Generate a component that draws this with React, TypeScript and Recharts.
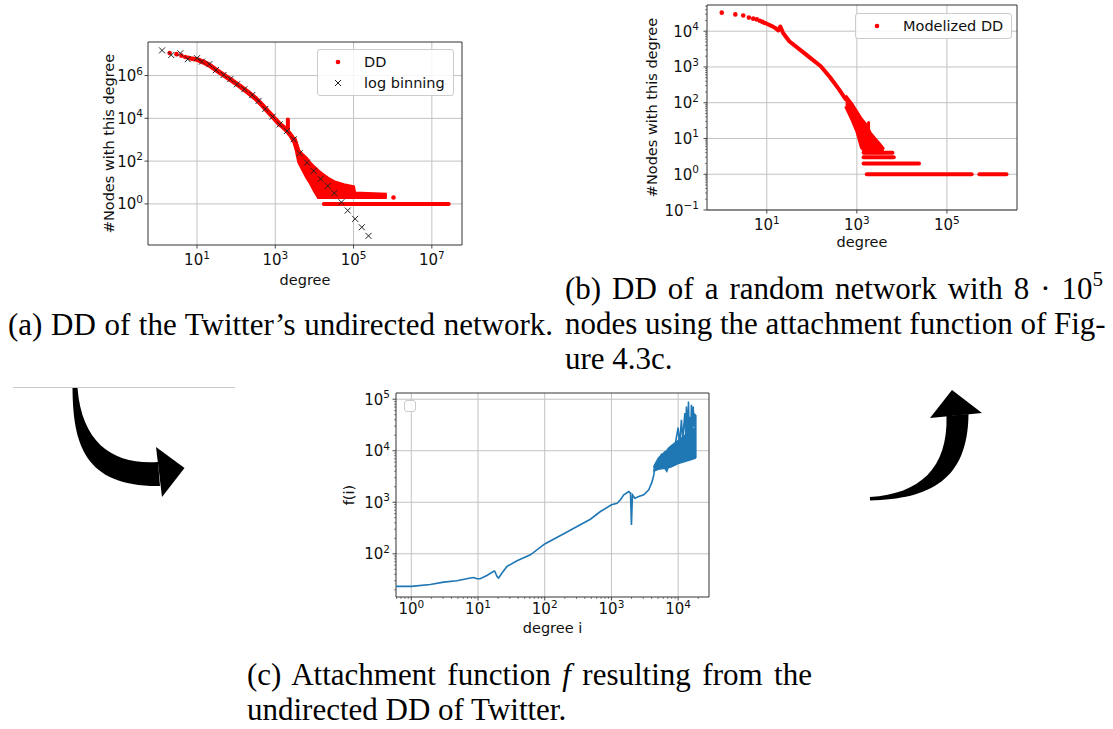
import React from 'react';
import {
  ComposedChart,
  Line,
  Area,
  Scatter,
  XAxis,
  YAxis,
  CartesianGrid,
  Legend,
  ReferenceArea
} from 'recharts';

const FONT = '"DejaVu Sans", sans-serif';
const SERIF = '"Liberation Serif", "Times New Roman", serif';
const RED = '#ff0000';
const BLUE = '#1f77b4';
const GRID = '#c2c2c2';
const MULTS = [2, 3, 4, 5, 6, 7, 8, 9];

// (a) DD of the Twitter undirected network
const aXDomain = [0.56, 5.9e7];
const aYDomain = [0.012, 3.7e7];
const aXMajor = [10, 1e3, 1e5, 1e7];
const aYMajor = [1, 100, 1e4, 1e6];
const aDDDots = [[2, 1.12e7], [3, 1.0e7], [4, 8.5e6], [5, 7.4e6], [6, 6.8e6], [7, 6.3e6], [8, 6.0e6], [9, 5.8e6]];
const aDDBand = [
  [10, 5.6e6], [15.8, 4.0e6], [20, 3.2e6], [31.6, 1.78e6], [50, 1.0e6], [79, 5.75e5], [126, 3.16e5],
  [200, 1.66e5], [316, 8.5e4], [500, 3.55e4], [794, 1.41e4], [1260, 5600], [1580, 4000], [2000, 2630],
  [2510, 1580], [3160, 790], [3550, 400]
];
const aSpike = [[2100, 2800], [2100, 8900]];
// x, lowest, highest
const aCloud = [
  [3160, 630, 1260], [3980, 89, 316], [5010, 39, 200], [6310, 17.8, 135], [7940, 8.9, 79],
  [10000, 4, 52], [12600, 2, 35], [15800, 2, 25], [22400, 2, 15.8], [31600, 2, 11], [56200, 2, 7.9],
  [100000, 2, 6.3], [107000, 2, 3.2], [708000, 2, 2.8]
];
const aRowOne = [17400, 2.7e7, 1];
const aLoneDots = [[1.05e6, 2]];
const aLogBin = [
  [1.28, 1.5e7], [2.2, 9.1e6], [3.75, 1.1e7], [5.8, 5.8e6], [10, 6.5e6], [13.4, 4.5e6], [20.7, 3.4e6],
  [30.5, 1.8e6], [47.9, 1.07e6], [70.8, 6.8e5], [105, 3.9e5], [162, 2.3e5], [259, 1.23e5], [374, 6.5e4],
  [556, 2.75e4], [857, 1.2e4], [1290, 5200], [1990, 2570], [2940, 1050], [4190, 234], [6450, 85],
  [9550, 35], [14400, 14.8], [21900, 6.9], [32300, 3.2], [49000, 1.2], [71000, 0.49], [110000, 0.2],
  [163000, 0.081], [241000, 0.032]
];

// (b) DD of the random network
const bXDomain = [0.47, 3.6e6];
const bYDomain = [0.1, 5.4e4];
const bXMajor = [10, 1e3, 1e5];
const bYMajor = [0.1, 1, 10, 100, 1e3, 1e4];
const bDDDots = [[1, 3.3e4], [2, 2.95e4], [3, 2.75e4], [4, 2.4e4], [5, 2.24e4], [6, 2.14e4], [7, 1.95e4], [8, 1.82e4], [9, 1.7e4]];
const bDDBand = [
  [10, 1.62e4], [12.6, 1.41e4], [15.8, 1.2e4], [18, 1.05e4], [20, 1.35e4], [23, 8900], [31.6, 5250],
  [56, 2950], [100, 1660], [158, 1050], [251, 525], [398, 240], [562, 126]
];
const bCloud = [
  [562, 79, 158], [794, 31.6, 89], [1000, 15.8, 56], [1260, 5.6, 35], [1580, 4, 25], [2000, 4, 14],
  [2510, 4, 10], [3160, 4, 7.1], [3980, 4, 5]
];
const bSpike = [[1820, 10], [1820, 28]];
// from, to, count
const bRows = [[1410, 6170, 4], [1410, 6600, 3], [1410, 24000, 2], [1660, 355000, 1], [525000, 2.1e6, 1]];

// (c) attachment function f(i)
const cXDomain = [0.59, 2.9e4];
const cYDomain = [14.5, 1.32e5];
const cXMajor = [1, 10, 100, 1e3, 1e4];
const cYMajor = [100, 1e3, 1e4, 1e5];
const cCurve = [
  [0.59, 23.3], [1, 23.3], [1.93, 25.4], [3.05, 28.2], [4.84, 30], [7.67, 33.9], [8.6, 34.7], [9.66, 32.8],
  [10.8, 32.8], [13.6, 38], [17.2, 45.7], [17.8, 46.2], [19.3, 36.3], [20.4, 33.9], [22.9, 42.3],
  [27.2, 56.9], [38.5, 73.3], [61, 95.5], [100, 155], [193, 245], [305, 339], [484, 468], [684, 661],
  [1000, 891], [1216, 955], [1365, 1120], [1531, 1400], [1820, 1620], [1930, 1510], [1995, 363],
  [2065, 1400], [2240, 1200], [2570, 1290], [3055, 1400], [3630, 1740], [4070, 2510], [4315, 3390],
  [4470, 5000], [5010, 6300], [5600, 8500], [6310, 7000], [7080, 10000], [7940, 9000], [8900, 12000],
  [10000, 28200], [10500, 13000], [11200, 40000], [11700, 16000], [12600, 53700], [13000, 18000],
  [13300, 72400], [13800, 20000], [14300, 90200], [14600, 22000], [15000, 45700], [15500, 24000],
  [15800, 77600], [16200, 26000], [16800, 72400], [17300, 28000], [17800, 50100], [18400, 47900],
  [18400, 7240]
];
const cBand = [
  [4270, 3980, 4790], [5010, 4370, 7080], [6310, 4570, 9550], [6760, 3980, 10000], [7080, 4680, 11000],
  [7940, 4900, 12600], [10000, 5620, 15800], [12600, 6170, 20000], [15800, 6760, 25100], [18400, 7240, 28200]
];

const pts = (arr: number[][]) => arr.map(([x, y]) => ({ x, y }));
const ranges = (arr: number[][]) => arr.map(([x, lo, hi]) => ({ x, range: [lo, hi] }));
const seg = ([x1, x2, y]: number[]) => [{ x: x1, y }, { x: x2, y }];
const minorTicks = (decades: number[], dom: number[]) =>
  decades.flatMap(d => MULTS.map(m => m * d)).filter(v => v > dom[0] && v < dom[1]);

const expo = (v: number) => {
  const e = Math.round(Math.log10(v));
  return e < 0 ? '\u2212' + Math.abs(e) : String(e);
};

const xTick = (majors: number[], dy: number) => (p: any) => {
  const v = p.payload.value;
  const major = majors.indexOf(v) >= 0;
  return (
    <g>
      <line x1={p.x} x2={p.x} y1={p.y} y2={p.y + (major ? 3.5 : 2)} stroke="#333" strokeWidth={major ? 0.9 : 0.6} />
      {major ? (
        <text x={p.x} y={p.y + dy} textAnchor="middle" fontFamily={FONT} fontSize={15} fill="#111">
          10<tspan dy={-6.5} fontSize={10.5}>{expo(v)}</tspan>
        </text>
      ) : null}
    </g>
  );
};

const yTick = (majors: number[], gap: number) => (p: any) => {
  const v = p.payload.value;
  const major = majors.indexOf(v) >= 0;
  return (
    <g>
      <line x1={p.x - (major ? 3.5 : 2)} x2={p.x} y1={p.y} y2={p.y} stroke="#333" strokeWidth={major ? 0.9 : 0.6} />
      {major ? (
        <text x={p.x - gap} y={p.y + 5.5} textAnchor="end" fontFamily={FONT} fontSize={15} fill="#111">
          10<tspan dy={-6.5} fontSize={10.5}>{expo(v)}</tspan>
        </text>
      ) : null}
    </g>
  );
};

const redDot = (p: any) => <circle cx={p.cx} cy={p.cy} r={2.3} fill={RED} />;
const cross = (p: any) => (
  <path
    d={`M${p.cx - 3},${p.cy - 3}L${p.cx + 3},${p.cy + 3}M${p.cx - 3},${p.cy + 3}L${p.cx + 3},${p.cy - 3}`}
    stroke="#222"
    strokeWidth={1}
  />
);

const labelStyle = { textAnchor: 'middle', fontFamily: FONT, fontSize: 14.5, fill: '#111' } as any;
const legendBox = {
  boxSizing: 'border-box',
  border: '1px solid #cccccc',
  borderRadius: 3,
  background: 'rgba(255,255,255,0.85)'
} as any;

function LegendA() {
  return (
    <div style={{ ...legendBox, width: 137, height: 47 }}>
      <svg width={137} height={47} style={{ display: 'block' }}>
        <circle cx={20} cy={12} r={2.3} fill={RED} />
        <path d="M17,30L23,36M17,36L23,30" stroke="#222" strokeWidth={1} />
        <text x={46} y={17} fontFamily={FONT} fontSize={14.5} fill="#111">DD</text>
        <text x={46} y={38} fontFamily={FONT} fontSize={14.5} fill="#111">log binning</text>
      </svg>
    </div>
  );
}

function LegendB() {
  return (
    <div style={{ ...legendBox, width: 157, height: 26 }}>
      <svg width={157} height={26} style={{ display: 'block' }}>
        <circle cx={21} cy={12} r={2.3} fill={RED} />
        <text x={47} y={17} fontFamily={FONT} fontSize={14.5} fill="#111">Modelized DD</text>
      </svg>
    </div>
  );
}

function LegendC() {
  return <div style={{ ...legendBox, width: 12, height: 12 }} />;
}

function ChartA() {
  return (
    <ComposedChart width={390} height={270} margin={{ top: 12, right: 18, bottom: 15, left: 0 }}>
      <CartesianGrid stroke={GRID} verticalValues={aXMajor} horizontalValues={aYMajor} />
      <XAxis
        dataKey="x" type="number" scale="log" domain={aXDomain} allowDataOverflow ticks={aXMajor} interval={0}
        tickSize={0} tickMargin={0} axisLine={false} tick={xTick(aXMajor, 20)} height={40}
        label={{ value: 'degree', position: 'insideBottom', offset: 0, style: labelStyle }}
      />
      <YAxis
        type="number" scale="log" domain={aYDomain} allowDataOverflow ticks={aYMajor} interval={0}
        tickSize={0} tickMargin={0} axisLine={false} tick={yTick(aYMajor, 5)} width={58}
        label={{ value: '#Nodes with this degree', angle: -90, position: 'insideLeft', offset: 19, style: labelStyle }}
      />
      <ReferenceArea x1={aXDomain[0]} x2={aXDomain[1]} y1={aYDomain[0]} y2={aYDomain[1]} fill="none" stroke="#333" ifOverflow="visible" />
      <Area data={ranges(aCloud)} dataKey="range" type="linear" stroke={RED} strokeWidth={3} fill={RED} fillOpacity={1} isAnimationActive={false} />
      <Line data={pts(aDDBand)} dataKey="y" type="linear" stroke={RED} strokeWidth={5} strokeLinejoin="round" strokeLinecap="round" dot={false} activeDot={false} isAnimationActive={false} />
      <Line data={pts(aSpike)} dataKey="y" type="linear" stroke={RED} strokeWidth={4} strokeLinecap="round" dot={false} activeDot={false} isAnimationActive={false} />
      <Line data={seg(aRowOne)} dataKey="y" type="linear" stroke={RED} strokeWidth={4} strokeLinecap="round" dot={false} activeDot={false} isAnimationActive={false} />
      <Scatter data={pts(aDDDots)} dataKey="y" shape={redDot} isAnimationActive={false} />
      <Scatter data={pts(aLoneDots)} dataKey="y" shape={redDot} isAnimationActive={false} />
      <Scatter data={pts(aLogBin)} dataKey="y" shape={cross} isAnimationActive={false} />
      <Legend layout="vertical" align="center" verticalAlign="middle" wrapperStyle={{ left: 227, top: 19 }} content={() => <LegendA />} />
    </ComposedChart>
  );
}

function ChartB() {
  const bYMinor = minorTicks([0.1, 1, 10, 100, 1e3, 1e4], bYDomain);
  return (
    <ComposedChart width={400} height={260} margin={{ top: 5, right: 13, bottom: 13, left: 0 }}>
      <CartesianGrid stroke={GRID} verticalValues={bXMajor} horizontalValues={bYMajor} />
      <XAxis
        dataKey="x" type="number" scale="log" domain={bXDomain} allowDataOverflow ticks={bXMajor} interval={0}
        tickSize={0} tickMargin={0} axisLine={false} tick={xTick(bXMajor, 20)} height={37}
        label={{ value: 'degree', position: 'insideBottom', offset: 0, style: labelStyle }}
      />
      <YAxis
        type="number" scale="log" domain={bYDomain} allowDataOverflow ticks={[...bYMajor, ...bYMinor]} interval={0}
        tickSize={0} tickMargin={0} axisLine={false} tick={yTick(bYMajor, 8)} width={77}
        label={{ value: '#Nodes with this degree', angle: -90, position: 'insideLeft', offset: 22, style: labelStyle }}
      />
      <ReferenceArea x1={bXDomain[0]} x2={bXDomain[1]} y1={bYDomain[0]} y2={bYDomain[1]} fill="none" stroke="#333" ifOverflow="visible" />
      <Area data={ranges(bCloud)} dataKey="range" type="linear" stroke={RED} strokeWidth={3} fill={RED} fillOpacity={1} isAnimationActive={false} />
      <Line data={pts(bDDBand)} dataKey="y" type="linear" stroke={RED} strokeWidth={4} strokeLinejoin="round" strokeLinecap="round" dot={false} activeDot={false} isAnimationActive={false} />
      <Line data={pts(bSpike)} dataKey="y" type="linear" stroke={RED} strokeWidth={3} strokeLinecap="round" dot={false} activeDot={false} isAnimationActive={false} />
      {bRows.map((r, i) => (
        <Line key={'row' + i} data={seg(r)} dataKey="y" type="linear" stroke={RED} strokeWidth={4} strokeLinecap="round" dot={false} activeDot={false} isAnimationActive={false} />
      ))}
      <Scatter data={pts(bDDDots)} dataKey="y" shape={redDot} isAnimationActive={false} />
      <Legend layout="vertical" align="center" verticalAlign="middle" wrapperStyle={{ left: 225, top: 13 }} content={() => <LegendB />} />
    </ComposedChart>
  );
}

function ChartC() {
  const cXMinor = minorTicks([0.1, 1, 10, 100, 1e3, 1e4], cXDomain);
  const cYMinor = minorTicks([10, 100, 1e3, 1e4, 1e5], cYDomain);
  return (
    <ComposedChart width={400} height={270} margin={{ top: 13, right: 21, bottom: 17, left: 0 }}>
      <CartesianGrid stroke={GRID} verticalValues={cXMajor} horizontalValues={cYMajor} />
      <XAxis
        dataKey="x" type="number" scale="log" domain={cXDomain} allowDataOverflow ticks={[...cXMajor, ...cXMinor]} interval={0}
        tickSize={0} tickMargin={0} axisLine={false} tick={xTick(cXMajor, 17)} height={36}
        label={{ value: 'degree i', position: 'insideBottom', offset: 0, style: labelStyle }}
      />
      <YAxis
        type="number" scale="log" domain={cYDomain} allowDataOverflow ticks={[...cYMajor, ...cYMinor]} interval={0}
        tickSize={0} tickMargin={0} axisLine={false} tick={yTick(cYMajor, 6)} width={66}
        label={{ value: 'f(i)', angle: -90, position: 'insideLeft', offset: 19, style: labelStyle }}
      />
      <ReferenceArea x1={cXDomain[0]} x2={cXDomain[1]} y1={cYDomain[0]} y2={cYDomain[1]} fill="none" stroke="#333" ifOverflow="visible" />
      <Area data={ranges(cBand)} dataKey="range" type="linear" stroke={BLUE} strokeWidth={1.5} fill={BLUE} fillOpacity={1} isAnimationActive={false} />
      <Line data={pts(cCurve)} dataKey="y" type="linear" stroke={BLUE} strokeWidth={1.6} dot={false} activeDot={false} isAnimationActive={false} />
      <Legend layout="vertical" align="center" verticalAlign="middle" wrapperStyle={{ left: 74, top: 20 }} content={() => <LegendC />} />
    </ComposedChart>
  );
}

const capBase = {
  position: 'absolute',
  fontFamily: SERIF,
  fontSize: 31,
  lineHeight: '31px',
  whiteSpace: 'nowrap',
  color: '#000'
} as any;
const justify = { textAlign: 'justify', textAlignLast: 'justify' } as any;

export default function App() {
  return (
    <div style={{ position: 'fixed', left: 0, top: 0, width: 1113, height: 729, background: '#fff', overflow: 'hidden' }}>
      <svg width={1113} height={729} style={{ position: 'absolute', left: 0, top: 0 }}>
        <line x1={13} y1={387.5} x2={235} y2={387.5} stroke="#c8c8c8" strokeWidth={1} />
        <path d="M72.5,388 C73,445 85,487 160,486 L158,462 C115,465 82,445 77.5,388 Z" fill="#000" />
        <path d="M156,447 L184.5,468 L162,497 Z" fill="#000" />
        <path d="M870,500.5 C930,499 968,480 968.5,414 L946.5,416 C948,468 920,494 870,497 Z" fill="#000" />
        <path d="M930,418 L952,390 L982,413 Z" fill="#000" />
      </svg>

      <div style={{ position: 'absolute', left: 90, top: 30 }}><ChartA /></div>
      <div style={{ position: 'absolute', left: 630, top: 0 }}><ChartB /></div>
      <div style={{ position: 'absolute', left: 330, top: 380 }}><ChartC /></div>

      <div style={{ ...capBase, ...justify, left: 8, top: 309, width: 545 }}>
        (a) DD of the Twitter’s undirected network.
      </div>
      <div style={{ ...capBase, ...justify, left: 565, top: 273, width: 538 }}>
        (b) DD of a random network with 8 · 10<span style={{ fontSize: 21, verticalAlign: 13, lineHeight: 0 }}>5</span>
      </div>
      <div style={{ ...capBase, ...justify, left: 565, top: 308, width: 538 }}>
        nodes using the attachment function of Fig-
      </div>
      <div style={{ ...capBase, left: 565, top: 343 }}>ure 4.3c.</div>
      <div style={{ ...capBase, ...justify, left: 247, top: 659, width: 565 }}>
        (c) Attachment function <i>f</i> resulting from the
      </div>
      <div style={{ ...capBase, left: 247, top: 694 }}>undirected DD of Twitter.</div>
    </div>
  );
}
